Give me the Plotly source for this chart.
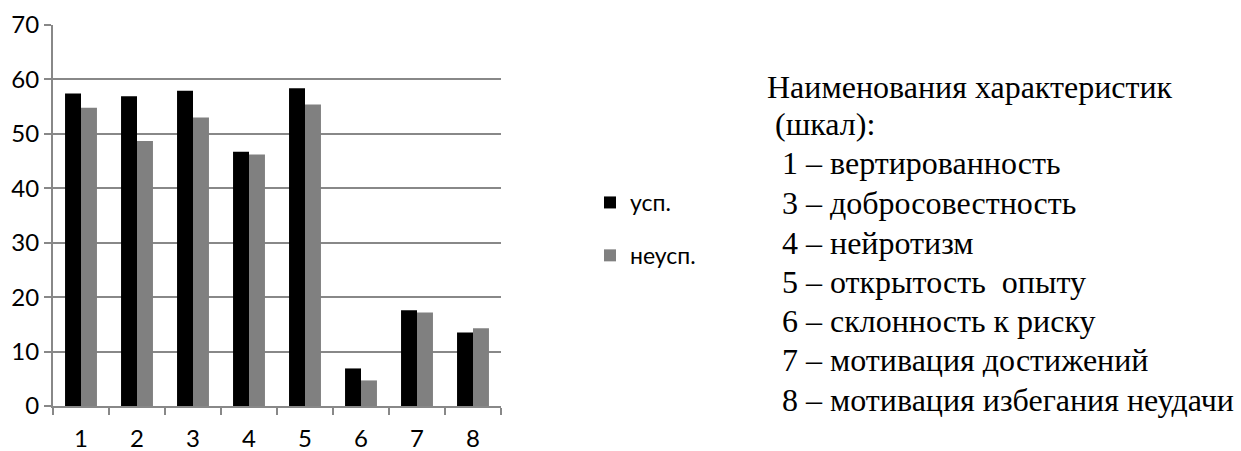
import plotly.graph_objects as go

# Scale numbers on the category axis
categories = ["1", "2", "3", "4", "5", "6", "7", "8"]

# Mean scores for the two groups
usp = [57.4, 56.9, 57.9, 46.7, 58.4, 6.9, 17.6, 13.5]
neusp = [54.8, 48.7, 53.0, 46.2, 55.4, 4.7, 17.2, 14.3]

series_names = ["усп.", "неусп."]

# Scale descriptions shown to the right of the chart
caption_lines = [
    "Наименования характеристик",
    " (шкал):",
    "1 – вертированность",
    "3 – добросовестность",
    "4 – нейротизм",
    "5 – открытость  опыту",
    "6 – склонность к риску",
    "7 – мотивация достижений",
    "8 – мотивация избегания неудачи",
]

W, H = 1241, 451
L, R, T, B = 53, 740, 25, 45
plot_w = W - L - R
plot_h = H - T - B

fig = go.Figure()
fig.add_trace(go.Bar(x=categories, y=usp, name=series_names[0],
                     marker=dict(color="#000000", line=dict(width=0)),
                     legendgroup="a"))
fig.add_trace(go.Bar(x=categories, y=neusp, name=series_names[1],
                     marker=dict(color="#808080", line=dict(width=0)),
                     legendgroup="b"))

axis_font = dict(family="Lato", size=24, color="#000000")
grid_col = "#888888"

fig.update_layout(
    width=W, height=H,
    margin=dict(l=L, r=R, t=T, b=B),
    paper_bgcolor="white", plot_bgcolor="white",
    barmode="group", bargap=0.43, bargroupgap=0,
    showlegend=True,
    legend=dict(x=(590 - L) / plot_w, y=(T + plot_h - 181) / plot_h,
                xanchor="left", yanchor="top",
                font=dict(family="Lato", size=23, color="#000000"),
                tracegroupgap=20, itemwidth=30, bgcolor="rgba(0,0,0,0)"),
    xaxis=dict(type="category", showgrid=False, showline=True,
               linecolor=grid_col, linewidth=2, automargin=False,
               ticks="outside", tickson="boundaries", ticklen=7,
               tickcolor=grid_col, tickwidth=2, tickfont=axis_font,
               ticklabelstandoff=10),
    yaxis=dict(range=[0, 70], dtick=10, showgrid=True,
               gridcolor=grid_col, gridwidth=2, automargin=False,
               showline=True, linecolor=grid_col, linewidth=2,
               ticks="outside", ticklen=7, tickcolor=grid_col, tickwidth=2,
               tickfont=axis_font, ticklabelstandoff=0, zeroline=False),
)

# Caption text block
line_y = [87, 124, 163, 203, 243, 282, 321, 360, 400]
line_x = [765, 765, 780, 780, 780, 780, 780, 780, 780]
for text, px, py in zip(caption_lines, line_x, line_y):
    fig.add_annotation(
        x=(px - L) / plot_w, y=(T + plot_h - py) / plot_h,
        xref="paper", yref="paper", xanchor="left", yanchor="middle",
        text=text, showarrow=False,
        font=dict(family="Liberation Serif", size=32, color="#000000"),
    )

fig.write_html("out.html")
